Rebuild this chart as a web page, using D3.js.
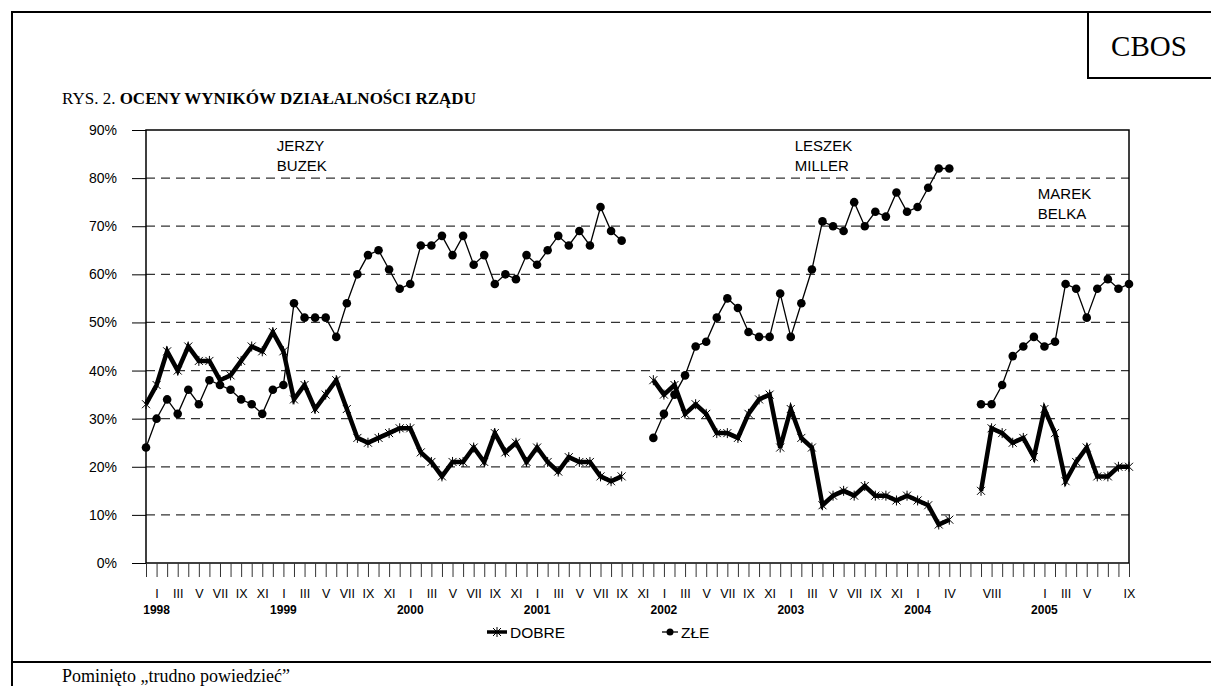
<!DOCTYPE html>
<html>
<head>
<meta charset="utf-8">
<script src="https://cdn.jsdelivr.net/npm/d3@7"></script>
<style>
  body { margin: 0; background: #fff; }
  svg { display: block; }
</style>
</head>
<body>
<svg id="chart" width="1211" height="686"></svg>
<script>
// month categories, XII 1997 .. IX 2005 (one per month, blank = no label)
const monthLabels = [
  "",
  "I","","III","","V","","VII","","IX","","XI","",   // 1998
  "I","","III","","V","","VII","","IX","","XI","",   // 1999
  "I","","III","","V","","VII","","IX","","XI","",   // 2000
  "I","","III","","V","","VII","","IX","","XI","",   // 2001
  "I","","III","","V","","VII","","IX","","XI","",   // 2002
  "I","","III","","V","","VII","","IX","","XI","",   // 2003
  "I","","","IV","","","","VIII","","","","",        // 2004
  "I","","III","","V","","","","IX"                  // 2005
];
const years = ["1998","1999","2000","2001","2002","2003","2004","2005"];
const yearIndex = [1, 13, 25, 37, 49, 61, 73, 85];

// "dobre" ratings, null = gap between governments
const dobre = [
  33,37,44,40,45,42,42,38,39,42,45,44,48,44,34,37,32,35,38,32,26,25,26,27,28,28,
  23,21,18,21,21,24,21,27,23,25,21,24,21,19,22,21,21,18,17,18,
  null,null,
  38,35,37,31,33,31,27,27,26,31,34,35,24,32,26,24,12,14,15,14,16,14,14,13,14,13,12,8,9,
  null,null,
  15,28,27,25,26,22,32,27,17,21,24,18,18,20,20
];
// "złe" ratings
const zle = [
  24,30,34,31,36,33,38,37,36,34,33,31,36,37,54,51,51,51,47,54,60,64,65,61,57,58,
  66,66,68,64,68,62,64,58,60,59,64,62,65,68,66,69,66,74,69,67,
  null,null,
  26,31,35,39,45,46,51,55,53,48,47,47,56,47,54,61,71,70,69,75,70,73,72,77,73,74,78,82,82,
  null,null,
  33,33,37,43,45,47,45,46,58,57,51,57,59,57,58
];
const yTicks = [0,10,20,30,40,50,60,70,80,90];
const premiers = [
  {lines: ["JERZY","BUZEK"], at: 12, value: 90},
  {lines: ["LESZEK","MILLER"], at: 61, value: 90},
  {lines: ["MAREK","BELKA"], at: 84, value: 80}
];

const svg = d3.select("#chart");
const sans = "'Liberation Sans', Arial, sans-serif";
const serif = "'Liberation Serif', 'Times New Roman', serif";

const plotL = 146, plotR = 1129, plotT = 130, plotB = 563;

const x = d3.scalePoint()
  .domain(d3.range(monthLabels.length))
  .range([plotL, plotR]);

const y = d3.scaleLinear()
  .domain([0, 90])
  .range([plotB, plotT]);

// frame of the page
svg.append("path")
  .attr("d", "M12,686 V12 H1211 M12,662 H1211 M1088,12 V78 H1211")
  .attr("fill", "none").attr("stroke", "#000").attr("stroke-width", 2);

svg.append("text")
  .attr("x", 1149).attr("y", 56)
  .attr("text-anchor", "middle")
  .attr("font-family", serif).attr("font-size", 29)
  .text("CBOS");

const title = svg.append("text")
  .attr("x", 62).attr("y", 104)
  .attr("font-family", serif).attr("font-size", 17);
title.append("tspan").text("RYS. 2. ");
title.append("tspan").attr("font-weight", "bold").text("OCENY WYNIKÓW DZIAŁALNOŚCI RZĄDU");

svg.append("text")
  .attr("x", 62).attr("y", 682)
  .attr("font-family", serif).attr("font-size", 18)
  .text("Pominięto „trudno powiedzieć”");

// gridlines
svg.append("g")
  .selectAll("line")
  .data(yTicks.filter(d => d > 0 && d < 90))
  .join("line")
  .attr("x1", plotL).attr("x2", plotR)
  .attr("y1", d => y(d)).attr("y2", d => y(d))
  .attr("stroke", "#333").attr("stroke-width", 1.3)
  .attr("stroke-dasharray", "9,6");

// plot border
svg.append("rect")
  .attr("x", plotL).attr("y", plotT)
  .attr("width", plotR - plotL).attr("height", plotB - plotT)
  .attr("fill", "none").attr("stroke", "#000").attr("stroke-width", 1.5);

// y axis
const yAxis = svg.append("g")
  .attr("transform", `translate(${plotL},0)`)
  .call(d3.axisLeft(y).tickValues(yTicks).tickSize(14).tickPadding(15)
    .tickFormat(d => d + "%"));
yAxis.select(".domain").remove();
yAxis.selectAll("line").attr("stroke", "#000");
yAxis.selectAll("text")
  .attr("font-family", sans).attr("font-size", 14).attr("fill", "#000");

// x axis
const xAxis = svg.append("g")
  .attr("transform", `translate(0,${plotB})`)
  .call(d3.axisBottom(x).tickSize(14).tickPadding(12)
    .tickFormat(i => monthLabels[i]));
xAxis.select(".domain").remove();
xAxis.selectAll("line").attr("stroke", "#333");
xAxis.selectAll("text")
  .attr("font-family", sans).attr("font-size", 12.5).attr("fill", "#000");

svg.append("g")
  .selectAll("text")
  .data(years)
  .join("text")
  .attr("x", (d, i) => x(yearIndex[i]))
  .attr("y", 614)
  .attr("text-anchor", "middle")
  .attr("font-family", sans).attr("font-size", 12).attr("font-weight", "bold")
  .text(d => d);

// premiers' names
const names = svg.append("g")
  .selectAll("text")
  .data(premiers)
  .join("text")
  .attr("font-family", sans).attr("font-size", 15);
names.selectAll("tspan")
  .data(d => d.lines.map((t, k) => ({t, k, p: d})))
  .join("tspan")
  .attr("x", d => x(d.p.at) + 4)
  .attr("y", d => y(d.p.value) + 21 + d.k * 20)
  .text(d => d.t);

const line = d3.line()
  .defined(d => d != null)
  .x((d, i) => x(i))
  .y(d => y(d));

// złe - thin line with dots
svg.append("path")
  .datum(zle)
  .attr("d", line)
  .attr("fill", "none").attr("stroke", "#000").attr("stroke-width", 1.3);
svg.append("g")
  .selectAll("circle")
  .data(zle.map((v, i) => ({v, i})).filter(d => d.v != null))
  .join("circle")
  .attr("cx", d => x(d.i)).attr("cy", d => y(d.v))
  .attr("r", 4.3).attr("fill", "#000");

// dobre - thick line with star markers
svg.append("path")
  .datum(dobre)
  .attr("d", line)
  .attr("fill", "none").attr("stroke", "#000").attr("stroke-width", 4.5)
  .attr("stroke-linejoin", "miter");
const star = (cx, cy, s) =>
  `M${cx - s},${cy - s}L${cx + s},${cy + s}M${cx - s},${cy + s}L${cx + s},${cy - s}M${cx},${cy - s - 1}V${cy + s + 1}`;
svg.append("g")
  .selectAll("path")
  .data(dobre.map((v, i) => ({v, i})).filter(d => d.v != null))
  .join("path")
  .attr("d", d => star(x(d.i), y(d.v), 4))
  .attr("stroke", "#000").attr("stroke-width", 1);

// legend
const legend = svg.append("g").attr("transform", "translate(0,632)");
legend.append("line")
  .attr("x1", 487).attr("x2", 507).attr("y1", 0).attr("y2", 0)
  .attr("stroke", "#000").attr("stroke-width", 3.5);
legend.append("path").attr("d", star(497, 0, 4)).attr("stroke", "#000").attr("stroke-width", 1);
legend.append("text").attr("x", 510).attr("y", 5.5)
  .attr("font-family", sans).attr("font-size", 15.5).text("DOBRE");
legend.append("line")
  .attr("x1", 662).attr("x2", 678).attr("y1", 0).attr("y2", 0)
  .attr("stroke", "#000").attr("stroke-width", 1.3);
legend.append("circle").attr("cx", 670).attr("cy", 0).attr("r", 3.5);
legend.append("text").attr("x", 681).attr("y", 5.5)
  .attr("font-family", sans).attr("font-size", 15.5).text("ZŁE");
</script>
</body>
</html>
